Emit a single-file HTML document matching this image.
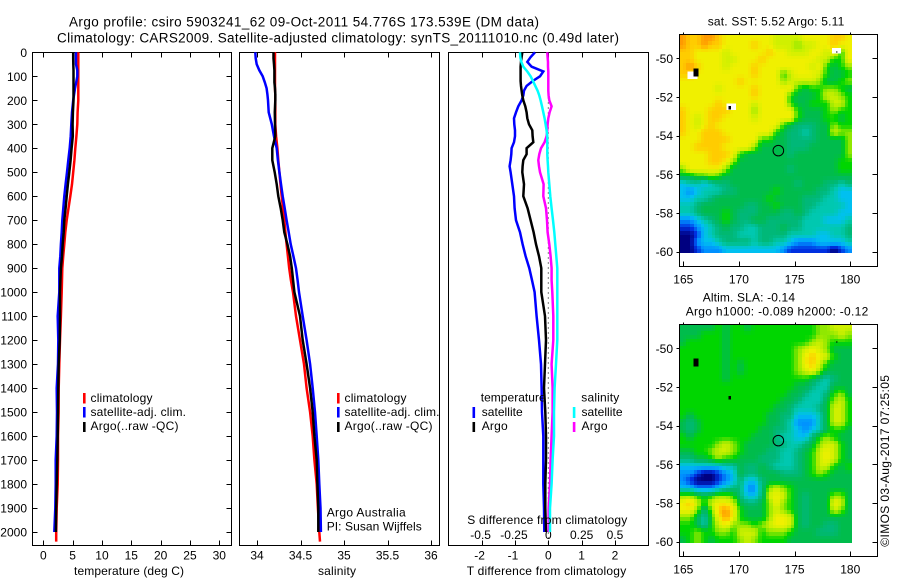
<!DOCTYPE html>
<html lang="en">
<head>
<meta charset="utf-8">
<title>Argo profile 5903241_62</title>
<style>
html,body{margin:0;padding:0;background:#fff;}
svg{display:block;}
text{font-family:"Liberation Sans",sans-serif;font-size:12px;fill:#000;}
</style>
</head>
<body>
<svg id="chart" xmlns="http://www.w3.org/2000/svg" width="900" height="580" viewBox="0 0 900 580">
<rect x="0" y="0" width="900" height="580" fill="#fff"/>
<g id="map1"></g>
<g id="map2"></g>
<g id="axes"></g>
<g id="lines"></g>

<text x="69" y="26.5" font-size="13.5" style="font-size:13.5px" textLength="470" lengthAdjust="spacing">Argo profile: csiro 5903241_62 09-Oct-2011 54.776S 173.539E (DM data)</text>
<text x="57" y="42.5" style="font-size:13.5px" textLength="562" lengthAdjust="spacing">Climatology: CARS2009. Satellite-adjusted climatology: synTS_20111010.nc (0.49d later)</text>

<text x="74" y="575" textLength="110" lengthAdjust="spacing">temperature (deg C)</text>
<text x="318" y="575" textLength="38" lengthAdjust="spacing">salinity</text>
<text x="466.7" y="575" textLength="159.5" lengthAdjust="spacing">T difference from climatology</text>
<text x="467.3" y="524" textLength="160" lengthAdjust="spacing">S difference from climatology</text>

<g>
<rect x="83" y="393" width="2.6" height="10.5" fill="#ff0000"/>
<rect x="83" y="407" width="2.6" height="10.5" fill="#0000ff"/>
<rect x="83" y="422" width="2.6" height="10" fill="#000"/>
<text x="90.5" y="402" textLength="62" lengthAdjust="spacing">climatology</text>
<text x="90.5" y="416" textLength="95.5" lengthAdjust="spacing">satellite-adj. clim.</text>
<text x="90.5" y="430" textLength="88" lengthAdjust="spacing">Argo(..raw -QC)</text>
</g>
<g>
<rect x="337" y="393" width="2.6" height="10.5" fill="#ff0000"/>
<rect x="337" y="407" width="2.6" height="10.5" fill="#0000ff"/>
<rect x="337" y="422" width="2.6" height="10" fill="#000"/>
<text x="344.5" y="402" textLength="62" lengthAdjust="spacing">climatology</text>
<text x="344.5" y="416" textLength="95" lengthAdjust="spacing">satellite-adj. clim.</text>
<text x="344.5" y="430" textLength="88" lengthAdjust="spacing">Argo(..raw -QC)</text>
</g>
<text x="326.7" y="516.7" textLength="79" lengthAdjust="spacing">Argo Australia</text>
<text x="326.7" y="530.7" textLength="95" lengthAdjust="spacing">PI: Susan Wijffels</text>

<g>
<text x="480.7" y="401.7" textLength="65" lengthAdjust="spacing">temperature</text>
<text x="581.3" y="401.7" textLength="38" lengthAdjust="spacing">salinity</text>
<rect x="472.5" y="407" width="2.6" height="11" fill="#0000ff"/>
<rect x="472.5" y="422" width="2.6" height="10" fill="#000"/>
<rect x="572.8" y="407" width="2.6" height="11" fill="#00ffff"/>
<rect x="572.8" y="422" width="2.6" height="10" fill="#ff00ff"/>
<text x="481.7" y="416" textLength="41" lengthAdjust="spacing">satellite</text>
<text x="481.7" y="430" textLength="26" lengthAdjust="spacing">Argo</text>
<text x="581.5" y="416" textLength="41" lengthAdjust="spacing">satellite</text>
<text x="581.5" y="430" textLength="26" lengthAdjust="spacing">Argo</text>
</g>

<text x="707.7" y="25.7" textLength="136.6" lengthAdjust="spacing">sat. SST: 5.52 Argo: 5.11</text>
<text x="702.7" y="301.7" textLength="92.3" lengthAdjust="spacing">Altim. SLA: -0.14</text>
<text x="685.7" y="315.7" textLength="182.6" lengthAdjust="spacing">Argo h1000: -0.089 h2000: -0.12</text>
<text transform="translate(889,546.7) rotate(-90)" x="0" y="0" textLength="171.7" lengthAdjust="spacing">©IMOS 03-Aug-2017 07:25:05</text>
</svg>

<script>
/* ---------- profile data ---------- */
const profileDepths = [0,25,50,75,100,125,150,175,200,250,300,350,400,450,500,550,600,650,700,750,800,850,900,950,1000,1100,1200,1300,1400,1500,1600,1700,1800,1900,2000,2040];
const tempClimatology = [5.96,5.96,5.96,5.96,5.96,5.96,5.96,5.96,5.96,5.85,5.8,5.65,5.45,5.3,5.1,4.9,4.6,4.3,3.98,3.75,3.58,3.4,3.24,3.18,3.13,3.0,2.85,2.73,2.62,2.6,2.5,2.5,2.45,2.28,2.2,2.2];
const tempSatellite = [5.57,5.57,5.57,5.8,5.8,5.6,5.4,5.25,5.1,4.9,4.77,4.67,4.5,4.26,4.04,3.8,3.58,3.41,3.24,3.13,3.0,2.9,2.73,2.73,2.73,2.45,2.55,2.5,2.28,2.33,2.28,2.11,2.11,2.05,1.88,null];
const tempArgo = [5.1,5.1,5.12,5.15,5.15,5.15,5.15,5.15,5.15,5.05,5.0,5.03,4.83,4.66,4.43,4.2,3.98,3.8,3.58,3.47,3.3,3.18,3.0,2.92,2.85,2.85,2.79,2.62,2.55,2.5,2.45,2.39,2.28,2.2,2.15,null];
const salClimatology = [34.207,34.207,34.207,34.207,34.207,34.207,34.207,34.21,34.21,34.21,34.21,34.22,34.234,34.245,34.257,34.27,34.284,34.299,34.314,34.327,34.34,34.355,34.37,34.39,34.414,34.448,34.494,34.54,34.57,34.61,34.64,34.66,34.686,34.7,34.716,34.724];
const salSatellite = [33.98,33.985,33.996,34.027,34.065,34.09,34.11,34.12,34.126,34.134,34.17,34.195,34.226,34.24,34.257,34.276,34.295,34.318,34.34,34.364,34.387,34.418,34.448,34.467,34.483,34.525,34.57,34.61,34.64,34.667,34.686,34.705,34.716,34.73,34.735,null];
const salArgo = [34.19,34.19,34.195,34.2,34.2,34.2,34.207,34.21,34.21,34.205,34.207,34.21,34.176,34.176,34.203,34.226,34.245,34.272,34.295,34.314,34.349,34.38,34.4,34.415,34.43,34.494,34.525,34.57,34.61,34.64,34.66,34.686,34.694,34.705,34.705,null];

const diffDepths = [0,20,40,60,80,100,120,140,160,180,200,225,250,275,300,325,350,375,400,425,450,475,500,550,600,650,700,750,800,850,900,950,1000,1100,1200,1300,1400,1500,1600,1700,1800,1900,2000];
const diffTempSatellite = [-.40,-.53,-.63,-.50,-.15,-.25,-.47,-.65,-.73,-.75,-.80,-.90,-.97,-1.03,-1.02,-1.00,-1.00,-1.03,-1.10,-1.11,-1.13,-1.16,-1.13,-1.08,-1.03,-1.01,-.97,-.85,-.77,-.68,-.57,-.49,-.41,-.35,-.28,-.22,-.20,-.19,-.15,-.15,-.15,-.13,-.12];
const diffTempArgo = [-.78,-.80,-.82,-.83,-.83,-.83,-.83,-.82,-.80,-.78,-.75,-.69,-.65,-.63,-.58,-.48,-.47,-.45,-.65,-.65,-.75,-.77,-.78,-.73,-.75,-.62,-.53,-.44,-.37,-.28,-.21,-.21,-.21,-.10,-.07,-.10,-.13,-.09,-.07,-.07,-.09,-.09,-.07];
const diffSalSatellite = [-.2125,-.21,-.2025,-.1875,-.1575,-.1325,-.115,-.0975,-.08,-.0675,-.0575,-.0475,-.0375,-.0275,-.02,-.0125,-.0075,-.0075,-.0075,-.0075,-.005,-.0025,0,.0075,.015,.025,.035,.045,.0525,.06,.0675,.0675,.0675,.0675,.0675,.0575,.0475,.0425,.0425,.0325,.025,.0125,.0125];
const diffSalArgo = [-.0075,-.005,-.0025,-.0025,0,0,0,0,0,.0025,.0075,.025,.01,0,-.005,-.0075,-.0125,-.0275,-.055,-.0675,-.075,-.07,-.0625,-.035,-.0375,-.0175,-.01,-.005,.0075,.0175,.025,.025,.03,.0375,.0375,.025,.0325,.0325,.025,.0175,.0125,.0025,.0025];

/* ---------- tick labels ---------- */
const depthTicks = [0,100,200,300,400,500,600,700,800,900,1000,1100,1200,1300,1400,1500,1600,1700,1800,1900,2000];
const tempTicks = [0,5,10,15,20,25,30];
const salTicks = [34,34.5,35,35.5,36];
const diffTempTicks = [-2,-1,0,1,2];
const diffSalTicks = [-0.5,-0.25,0,0.25,0.5];
const lonTicks = [165,170,175,180];
const latTicks = [-50,-52,-54,-56,-58,-60];

/* ---------- map data: colour-scale level per grid node, north to south ---------- */
const sstGrid = [
[12,11,11,12,12,11,10,10,10,10,10,10,10,9,9,9,9,10,10,10,10,11,11,10],
[12,11,11,12,11,11,10,10,10,10,11,10,10,9,9,9,8,9,9,10,10,11,10,10],
[11,11,10,10,10,10,9,10,10,10,10,10,11,10,10,9,9,9,10,10,9,10,7,10],
[11,11,10,10,10,10,9,9,10,10,10,11,10,10,10,10,10,10,10,9,9,7,7,10],
[11,12,11,10,10,10,9,10,10,10,11,10,10,10,10,10,10,10,9,10,7,6,7,8],
[11,11,10,10,10,10,10,10,10,10,11,10,10,10,7,9,10,10,10,9,7,6,6,7],
[10,10,10,10,10,10,10,10,11,10,10,10,10,10,8,9,9,9,9,8,6,6,7,8],
[10,10,10,10,10,9,10,10,10,10,11,10,10,10,10,10,7,6,7,7,8,8,7,6],
[10,10,10,10,10,10,10,10,10,10,11,10,10,10,10,7,6,6,6,7,9,9,8,7],
[10,10,10,10,10,11,10,10,10,10,9,10,10,10,10,7,6,6,7,7,7,9,9,7],
[11,10,10,10,11,11,11,10,10,10,8,10,10,10,10,10,7,6,6,6,7,8,7,7],
[11,10,9,10,11,11,10,10,10,10,9,10,10,10,10,10,7,6,6,6,7,7,6,7],
[11,10,9,10,11,10,10,10,10,10,10,10,10,10,7,6,5,5,5,6,6,8,7,7],
[11,10,10,11,11,11,10,10,10,10,10,10,10,7,6,5,5,4,5,6,6,9,8,8],
[10,10,10,11,11,11,11,10,10,10,10,7,7,6,6,5,5,5,5,6,6,6,6,8],
[10,10,11,11,11,11,10,10,10,10,8,6,6,6,6,5,5,5,6,6,6,6,6,8],
[10,10,10,10,11,11,11,10,7,6,6,6,6,6,6,5,6,6,6,6,6,6,6,8],
[10,10,10,10,11,11,10,8,6,6,6,6,6,6,6,6,6,6,6,6,6,6,7,7],
[8,10,10,10,10,10,8,6,6,6,6,6,6,6,6,5,6,6,6,6,6,6,7,7],
[6,6,7,7,8,7,6,6,6,6,6,6,6,6,6,6,6,6,6,6,6,6,6,6],
[3,4,4,3,4,5,5,6,6,6,6,6,6,6,6,6,5,6,6,6,5,5,4,5],
[3,2,3,4,4,4,5,5,6,6,6,6,6,7,6,6,6,6,6,5,5,4,3,3],
[3,3,4,4,5,6,6,6,6,6,6,6,7,6,6,6,6,5,5,5,4,4,3,3],
[4,4,5,6,6,6,6,6,6,5,5,6,6,7,6,6,6,5,5,4,4,4,4,3],
[4,4,5,6,6,6,7,6,5,5,5,6,6,6,5,5,6,5,4,4,4,4,3,3],
[2,2,3,4,5,6,7,6,5,5,6,6,5,5,5,5,5,4,4,4,3,3,3,4],
[1,1,2,3,4,5,6,5,5,4,4,5,5,5,6,5,5,4,4,4,4,4,4,5],
[0,0,1,3,4,5,5,5,4,4,4,5,5,5,5,4,4,4,4,3,3,4,4,5],
[0,0,2,3,3,4,5,5,5,5,4,5,5,4,4,3,2,2,2,3,3,3,3,4],
[0,0,1,2,2,2,3,3,3,3,3,3,3,3,2,1,1,1,1,1,1,0,1,2]
];
const slaGrid = [
[6,6,6,6,6,7,6,7,7,6,7,7,7,7,7,7,7,7,7,8,8,9,9,9],
[6,6,6,7,7,7,6,7,7,7,7,7,7,7,7,7,7,7,7,8,8,8,9,8],
[6,7,7,7,7,7,6,7,7,7,7,7,7,7,7,7,7,7,8,9,8,7,7,7],
[7,7,7,7,7,7,6,7,7,7,7,7,7,7,7,7,8,9,10,9,8,6,6,6],
[7,7,7,7,7,7,6,7,7,7,7,7,7,7,7,7,8,10,11,10,9,7,6,6],
[7,7,7,7,7,7,6,7,6,7,7,7,7,7,7,7,8,10,11,9,7,6,6,6],
[7,7,7,7,7,7,6,7,6,7,7,7,7,7,7,7,8,9,10,8,6,6,6,6],
[7,7,7,7,7,7,6,7,7,7,7,7,7,7,7,7,7,7,6,5,4,5,6,6],
[7,7,7,7,7,7,7,7,7,7,7,7,7,7,7,7,6,6,5,4,4,6,6,6],
[7,7,7,7,7,7,7,7,7,7,7,7,7,7,7,6,6,5,4,4,5,7,8,6],
[7,7,7,7,7,7,7,7,7,7,7,7,7,7,6,6,5,4,4,4,6,8,9,7],
[7,7,7,7,7,7,7,7,7,7,7,7,7,6,6,5,4,4,4,5,6,9,9,7],
[7,6,7,7,7,7,7,7,7,7,7,7,6,6,5,5,3,3,3,4,6,9,9,7],
[6,5,6,7,7,7,7,7,7,7,7,7,6,6,5,4,2,2,2,4,6,9,9,7],
[6,5,6,7,7,7,7,7,7,7,7,6,6,5,5,4,3,2,3,4,6,7,7,6],
[7,6,7,7,7,7,7,7,7,7,6,6,6,5,4,4,3,3,5,7,8,7,6,6],
[7,7,7,7,7,8,9,8,7,6,6,6,6,5,5,4,4,5,6,8,9,9,7,6],
[6,6,7,7,8,9,9,8,7,6,6,6,5,5,4,4,5,6,7,9,10,9,7,6],
[5,5,6,6,7,8,7,7,6,6,6,5,5,5,4,4,5,6,7,9,10,9,7,6],
[3,3,3,3,3,3,4,4,6,5,5,6,5,4,4,4,5,6,7,9,9,7,6,7],
[2,2,1,0,0,1,2,3,6,5,5,6,6,6,5,5,5,6,7,8,7,6,6,6],
[2,1,0,0,0,1,2,3,5,3,3,5,6,6,6,6,6,6,6,6,6,6,6,6],
[3,3,2,2,2,3,4,5,5,2,2,5,8,9,8,7,6,6,6,6,6,6,6,6],
[8,8,7,6,7,8,8,7,5,3,3,5,9,10,9,7,6,5,6,6,6,8,8,6],
[10,11,9,7,9,10,10,9,6,5,5,6,8,10,8,7,6,5,6,6,6,10,9,6],
[10,10,8,5,8,11,12,10,7,6,6,6,8,9,8,7,6,5,6,6,6,9,8,6],
[8,8,6,4,7,10,12,10,7,6,6,6,8,10,10,9,6,5,6,6,6,6,6,6],
[7,7,6,4,7,9,10,8,8,8,7,8,9,10,10,9,6,5,6,6,5,5,6,6],
[7,7,8,7,7,8,8,7,9,9,9,7,8,8,8,7,6,6,6,5,5,5,6,6],
[6,7,8,7,6,7,7,7,8,9,8,7,7,7,7,6,6,6,6,6,6,6,6,6]
];
/* colour scale anchors, red/green/blue per level */
const colourLevels = [[0,0,128],[0,48,224],[0,144,255],[0,192,240],[0,200,176],[0,184,120],[0,188,76],[0,214,0],[144,232,0],[208,240,0],[240,240,0],[255,204,0],[255,154,0]];
/* no-data patches and land, as [lonWest, latNorth, lonEast, latSouth] */
const whitePatches = [[165.36,-50.69,166.29,-51.07],[168.9,-52.33,169.73,-52.67],[178.36,-49.48,179.17,-49.74]];
const landPatches = [[165.9,-50.52,166.35,-50.95],[169.04,-52.47,169.29,-52.64],[178.72,-49.64,178.87,-49.71]];
const floatPosition = [173.539,-54.776];

/* ---------- axis functions ---------- */
const NS = "http://www.w3.org/2000/svg";
const yDepth = d => 52.3 + d * 0.23985;
const xTemp = t => 43.3 + t * 5.867;
const xSal = s => 257 + (s - 34) * 87;
const xDiffT = v => 548.3 + v * 33.33;
const xDiffS = v => 548.3 + v * 133.33;
const xLon = l => 683.3 + (l - 165) * 11.13;
const yLat1 = l => 58.3 + (-50 - l) * 19.33;
const yLat2 = l => 348.3 + (-50 - l) * 19.33;
const mapLonWest = 164.64, mapLonEast = 180.15, mapLatNorth = -48.74, mapLatSouth = -60.07;
const mapSmoothing = 2;

function mk(tag, parent, attrs) {
  const el = document.createElementNS(NS, tag);
  for (const k in attrs) el.setAttribute(k, attrs[k]);
  parent.appendChild(el);
  return el;
}
const axes = document.getElementById("axes");
const lines = document.getElementById("lines");

/* ---------- frames ---------- */
const frames = [[32.5,52.5,199,493],[239.5,52.5,200,493],[448.5,52.5,200,493],[679.5,34.5,198,232],[679.5,324.5,198,232]];
frames.forEach(function (f) {
  const el = mk("rect", axes, {x:f[0], y:f[1], width:f[2], height:f[3], fill:"none", stroke:"#000", "stroke-width":1, "shape-rendering":"crispEdges"});
  
  
});

function tick(x1, y1, x2, y2) {
  const el = mk("line", axes, {x1:x1, y1:y1, x2:x2, y2:y2, stroke:"#000", "stroke-width":1, "shape-rendering":"crispEdges"});
  
  
}
function label(str, x, y, anchor) {
  const el = mk("text", axes, {x:x, y:y, "text-anchor":anchor});
  el.textContent = str;
  
  
}

/* depth axis */
depthTicks.forEach(function (d) {
  const y = Math.round(yDepth(d)) + 0.5;
  tick(32.5, y, 37.5, y);
  tick(226.5, y, 231.5, y);
  label(String(d), 27, yDepth(d) + 4.5, "end");
});
/* temperature axis */
tempTicks.forEach(function (t) {
  const x = Math.round(xTemp(t)) + 0.5;
  tick(x, 52.5, x, 57.5);
  tick(x, 540.5, x, 545.5);
  label(String(t), xTemp(t), 559.5, "middle");
});
/* salinity axis */
salTicks.forEach(function (s) {
  const x = Math.round(xSal(s)) + 0.5;
  tick(x, 52.5, x, 57.5);
  tick(x, 540.5, x, 545.5);
  label(String(s), xSal(s), 559.5, "middle");
});
/* difference axes */
diffTempTicks.forEach(function (t) {
  const x = Math.round(xDiffT(t)) + 0.5;
  tick(x, 52.5, x, 57.5);
  tick(x, 540.5, x, 545.5);
  label(String(t), xDiffT(t) - (t < 0 ? 2 : 0), 559.5, "middle");
});
diffSalTicks.forEach(function (s) {
  label(String(s), xDiffS(s) - (s < 0 ? 1 : 0), 539, "middle");
});

/* ---------- zero reference ---------- */
const zeroLine = mk("line", axes, {x1:xDiffT(0), y1:52.5, x2:xDiffT(0), y2:545, stroke:"#000", "stroke-width":1, "stroke-dasharray":"1 4"});



/* ---------- series ---------- */
function series(values, depths, xFn, colour) {
  const pts = [];
  values.forEach(function (v, i) {
    if (v !== null) pts.push(xFn(v).toFixed(1) + "," + yDepth(depths[i]).toFixed(1));
  });
  return mk("polyline", lines, {points:pts.join(" "), fill:"none", stroke:colour, "stroke-width":2.5, "stroke-linejoin":"miter"});
}
let s;
s = series(tempClimatology, profileDepths, xTemp, "#ff0000");


s = series(tempSatellite, profileDepths, xTemp, "#0000ff");


s = series(tempArgo, profileDepths, xTemp, "#000000");


s = series(salClimatology, profileDepths, xSal, "#ff0000");


s = series(salSatellite, profileDepths, xSal, "#0000ff");


s = series(salArgo, profileDepths, xSal, "#000000");


s = series(diffTempSatellite, diffDepths, xDiffT, "#0000ff");


s = series(diffTempArgo, diffDepths, xDiffT, "#000000");


s = series(diffSalArgo, diffDepths, xDiffS, "#ff00ff");


s = series(diffSalSatellite, diffDepths, xDiffS, "#00ffff");



/* ---------- maps ---------- */
function levelColour(v) {
  const top = colourLevels.length - 1;
  const t = Math.max(0, Math.min(top, v));
  const i = Math.min(top - 1, Math.floor(t));
  const f = t - i;
  const a = colourLevels[i], b = colourLevels[i + 1];
  return "rgb(" + Math.round(a[0] + (b[0] - a[0]) * f) + "," + Math.round(a[1] + (b[1] - a[1]) * f) + "," + Math.round(a[2] + (b[2] - a[2]) * f) + ")";
}
/* resample the grid as the pixel map does: bilinear between grid nodes */
function sampleGrid(grid, fr, fc) {
  const rows = grid.length, cols = grid[0].length;
  const r = Math.max(0, Math.min(rows - 1, fr));
  const c = Math.max(0, Math.min(cols - 1, fc));
  const r0 = Math.floor(r), c0 = Math.floor(c);
  const r1 = Math.min(rows - 1, r0 + 1), c1 = Math.min(cols - 1, c0 + 1);
  const dr = r - r0, dc = c - c0;
  return grid[r0][c0] * (1 - dr) * (1 - dc) + grid[r0][c1] * (1 - dr) * dc + grid[r1][c0] * dr * (1 - dc) + grid[r1][c1] * dr * dc;
}
function drawMap(group, grid, yLat, showWhite) {
  const rows = grid.length * mapSmoothing;
  const cols = grid[0].length * mapSmoothing;
  const dLon = (mapLonEast - mapLonWest) / cols;
  const dLat = (mapLatNorth - mapLatSouth) / rows;
  for (let r = 0; r < rows; r++) {
    for (let c = 0; c < cols; c++) {
      const v = sampleGrid(grid, (r + 0.5) / mapSmoothing - 0.5, (c + 0.5) / mapSmoothing - 0.5);
      const x0 = Math.round(xLon(mapLonWest + c * dLon));
      const x1 = Math.round(xLon(mapLonWest + (c + 1) * dLon));
      const y0 = Math.round(yLat(mapLatNorth - r * dLat));
      const y1 = Math.round(yLat(mapLatNorth - (r + 1) * dLat));
      const cell = mk("rect", group, {x:x0, y:y0, width:x1 - x0, height:y1 - y0, fill:levelColour(v), "shape-rendering":"crispEdges"});
      
      
    }
  }
  function patch(p, colour) {
    const el = mk("rect", group, {x:xLon(p[0]), y:yLat(p[1]), width:xLon(p[2]) - xLon(p[0]), height:yLat(p[3]) - yLat(p[1]), fill:colour, "shape-rendering":"crispEdges"});
    
    
  }
  if (showWhite) whitePatches.forEach(function (p) { patch(p, "#ffffff"); });
  landPatches.forEach(function (p) { patch(p, "#000000"); });
  const c = mk("circle", group, {cx:xLon(floatPosition[0]), cy:yLat(floatPosition[1]), r:5.3, fill:"none", stroke:"#000", "stroke-width":1});
  
  
}
drawMap(document.getElementById("map1"), sstGrid, yLat1, true);
drawMap(document.getElementById("map2"), slaGrid, yLat2, false);

function mapAxes(top, bottom, yLat) {
  lonTicks.forEach(function (l) {
    const x = Math.round(xLon(l)) + 0.5;
    tick(x, top - 2, x, top);
    tick(x, bottom - 5, x, bottom);
    label(String(l), xLon(l), bottom + 17, "middle");
  });
  latTicks.forEach(function (l) {
    const y = Math.round(yLat(l)) + 0.5;
    tick(676.5, y, 679.5, y);
    tick(872.5, y, 877.5, y);
    label(String(l), 673, yLat(l) + 4.5, "end");
  });
}
mapAxes(34.5, 266.5, yLat1);
mapAxes(324.5, 556.5, yLat2);
</script>
</body>
</html>
